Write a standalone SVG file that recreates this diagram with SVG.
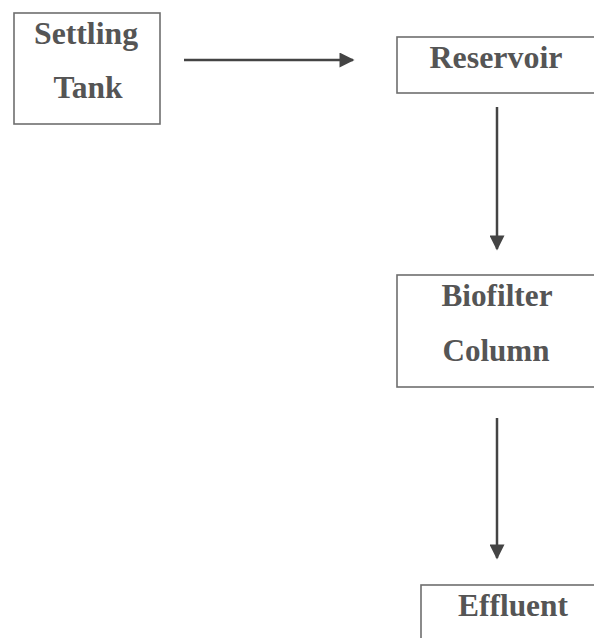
<svg xmlns="http://www.w3.org/2000/svg" width="594" height="638" viewBox="0 0 594 638">
<style>
.box{fill:#fff;stroke:#6e6e6e;stroke-width:1.6}
.lbl{font-family:"Liberation Serif","Times New Roman",serif;font-weight:bold;font-size:31px;fill:#555;text-anchor:middle}
.con{stroke:#444;stroke-width:2.5;fill:none}
</style>
<defs>
<marker id="ah" viewBox="0 0 10 10" refX="9" refY="5" markerWidth="6.5" markerHeight="6" orient="auto" markerUnits="strokeWidth">
<path d="M0,0 L10,5 L0,10 z" fill="#444"/>
</marker>
</defs>
<rect width="594" height="638" fill="#fff"/>
<g id="connectors">
<line class="con" x1="184" y1="60" x2="353" y2="60" marker-end="url(#ah)"/>
<line class="con" x1="497" y1="107" x2="497" y2="249" marker-end="url(#ah)"/>
<line class="con" x1="497" y1="418" x2="497" y2="558" marker-end="url(#ah)"/>
</g>
<g id="settling-tank">
<rect class="box" x="14" y="13" width="146" height="111"/>
<text class="lbl" x="86" y="44" textLength="104" lengthAdjust="spacingAndGlyphs">Settling</text>
<text class="lbl" x="88" y="98" textLength="69" lengthAdjust="spacingAndGlyphs">Tank</text>
</g>
<g id="reservoir">
<rect class="box" x="397" y="37" width="200" height="56"/>
<text class="lbl" x="496" y="68" textLength="133" lengthAdjust="spacingAndGlyphs">Reservoir</text>
</g>
<g id="biofilter-column">
<rect class="box" x="397" y="275" width="200" height="112"/>
<text class="lbl" x="497" y="306" textLength="111" lengthAdjust="spacingAndGlyphs">Biofilter</text>
<text class="lbl" x="496" y="361" textLength="107" lengthAdjust="spacingAndGlyphs">Column</text>
</g>
<g id="effluent">
<rect class="box" x="421" y="585" width="180" height="60"/>
<text class="lbl" x="513" y="616" textLength="110" lengthAdjust="spacingAndGlyphs">Effluent</text>
</g>
</svg>
